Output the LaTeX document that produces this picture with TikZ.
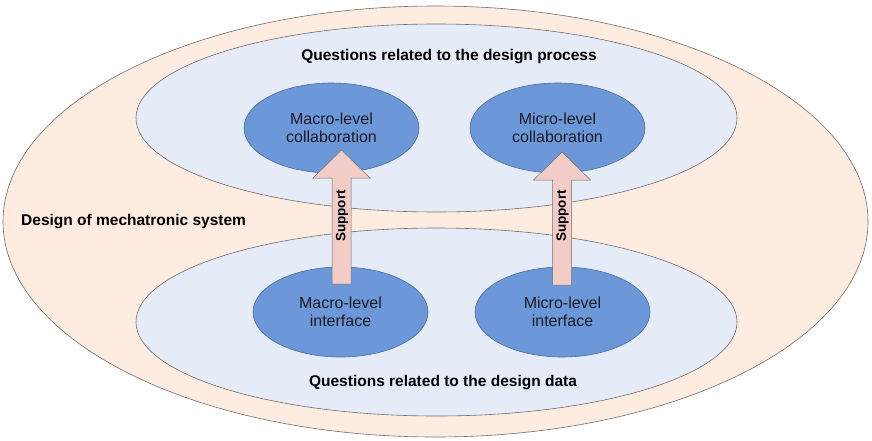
\documentclass[tikz,border=0pt]{standalone}
\usepackage{fontspec}
\setmainfont{Liberation Sans}
\usetikzlibrary{shapes.geometric}
\definecolor{outerfill}{HTML}{FDECDF}
\definecolor{innerfill}{HTML}{E5ECF7}
\definecolor{blobfill}{HTML}{6C98DA}
\definecolor{blobline}{HTML}{4A6C9E}
\definecolor{arrowfill}{HTML}{F2CDC8}
\definecolor{linegray}{HTML}{6E6E6E}
\definecolor{textcol}{HTML}{1C1C24}
\begin{document}
\begin{tikzpicture}[x=1pt,y=-1pt,
  region/.style={ellipse, draw=linegray, line width=0.6pt, inner sep=0pt},
  blob/.style={ellipse, draw=blobline, line width=0.6pt, fill=blobfill,
    minimum width=175pt, minimum height=90pt, inner sep=0pt,
    align=center, text=textcol, font=\fontsize{16}{17.5}\selectfont},
  titletext/.style={font=\bfseries\fontsize{15.5}{18}\selectfont, text=black, inner sep=0pt},
  supporttext/.style={font=\bfseries\fontsize{13.5}{16}\selectfont, text=black, rotate=90, inner sep=0pt},
  supportarrow/.style={fill=arrowfill, draw=linegray, line width=0.5pt, line join=miter}]
\useasboundingbox (0,0) rectangle (872,440);
% regions
\node[region, fill=outerfill, minimum width=865pt, minimum height=431pt] (outer) at (435.5,221.5) {};
\node[region, fill=innerfill, minimum width=601pt, minimum height=188pt] (proc) at (436.5,118) {};
\node[region, fill=innerfill, minimum width=601pt, minimum height=188pt] (data) at (436.5,322) {};
% titles
\node[titletext, anchor=west] (sys) at (21,222) {Design of mechatronic system};
\node[titletext] (ptitle) at (449,57) {Questions related to the design process};
\node[titletext] (dtitle) at (443,383) {Questions related to the design data};
% blobs
\node[blob] (mac) at (331.5,128) {Macro-level\\collaboration};
\node[blob] (mic) at (557.5,128) {Micro-level\\collaboration};
\node[blob] (mai) at (340.5,312) {Macro-level\\interface};
\node[blob] (mii) at (562.5,312) {Micro-level\\interface};
% support arrows
\foreach \cx/\ty/\by [count=\i] in {341.5/150/284, 562/152/285} {
  \draw[supportarrow] (\cx-9.5,\by) -- (\cx-9.5,\ty+28) -- (\cx-28.5,\ty+28) -- (\cx,\ty)
    -- (\cx+28.5,\ty+28) -- (\cx+9.5,\ty+28) -- (\cx+9.5,\by) -- cycle;
  \node[supporttext] (sup\i) at (\cx+0.5,216) {Support};
}
\end{tikzpicture}
\end{document}
